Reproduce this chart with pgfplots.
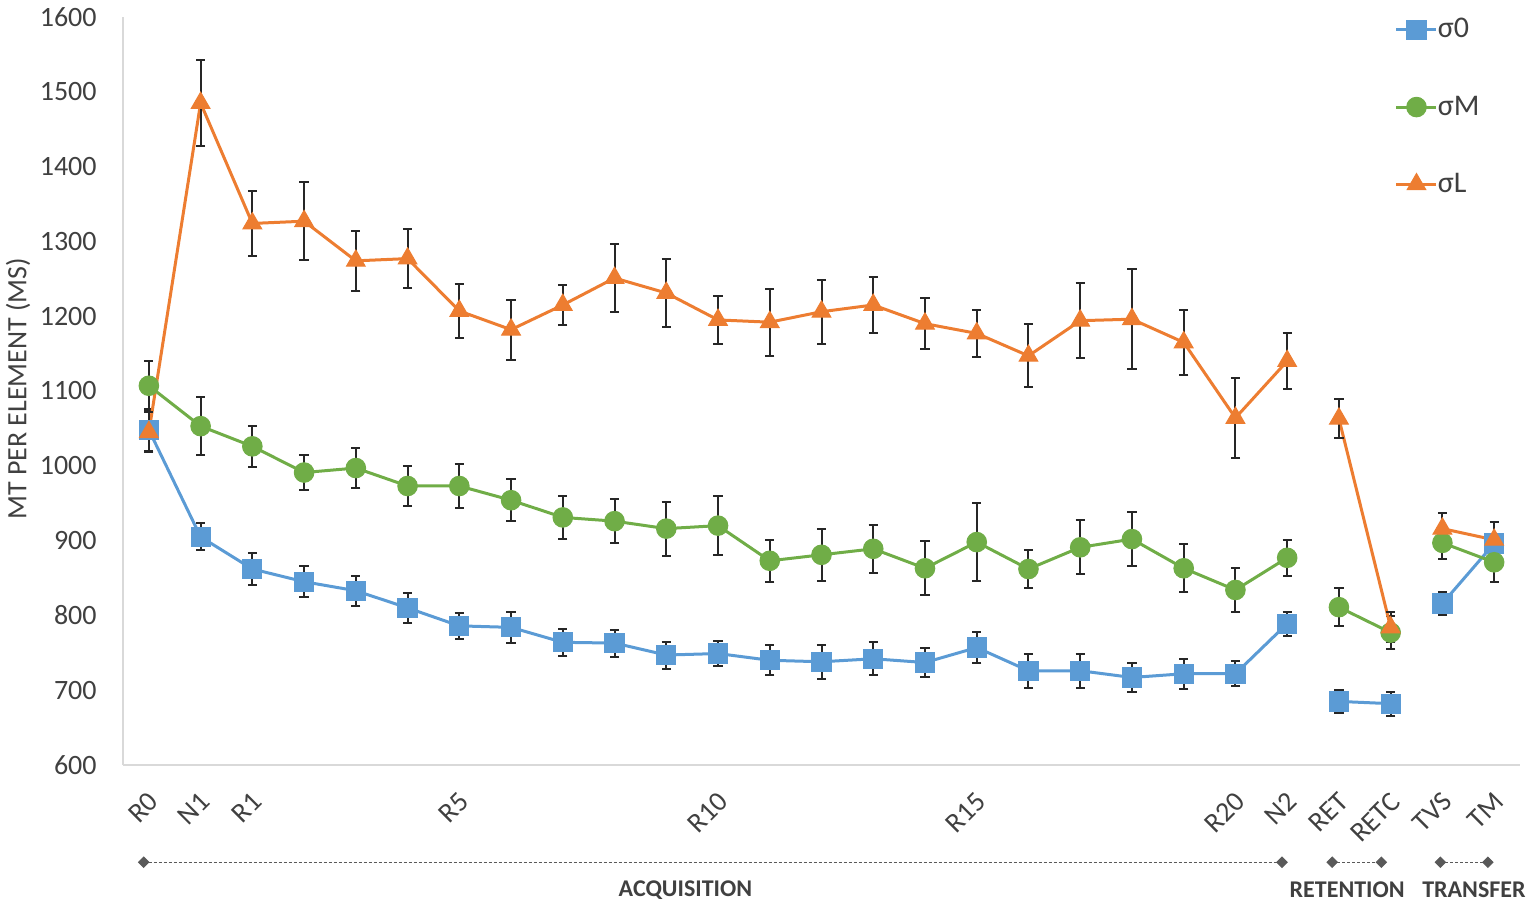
\documentclass[border=0pt]{standalone}
\usepackage{fontspec}
\setmainfont{Carlito}
\usepackage{pgfplots}
\usepackage{pgfplotstable}
\pgfplotsset{compat=1.18}
\definecolor{cblue}{HTML}{5B9BD5}
\definecolor{cgreen}{HTML}{70AD47}
\definecolor{corange}{HTML}{ED7D31}
\definecolor{errc}{HTML}{262626}
\definecolor{txt}{HTML}{404040}
\definecolor{axc}{HTML}{D9D9D9}
\definecolor{anc}{HTML}{595959}

\pgfplotstableread{
x y e
0 1048 28
1 905 18
2 862 21
3 845 21
4 833 20
5 810 20
6 786 17
7 784 21
8 764 18
9 763 18
10 747 18
11 749 17
12 740 20
13 738 23
14 742 22
15 737 20
16 757 21
17 726 23
18 726 23
19 717 19
20 722 20
21 722 17
22 789 16
23 685 15
24 682 16
25 816 15
26 896 12
}\tblue

\pgfplotstableread{
x y e
0 1107 33
1 1053 39
2 1026 27
3 991 24
4 997 27
5 973 27
6 973 29
7 954 28
8 931 29
9 926 29
10 916 36
11 920 39
12 873 28
13 881 35
14 889 32
15 863 36
16 898 52
17 862 25
18 891 36
19 902 36
20 863 32
21 834 29
22 877 24
23 811 25
24 777 22
25 897 22
26 871 26
}\tgreen

\pgfplotstableread{
x y e
0 1045 27
1 1485 57
2 1324 44
3 1327 52
4 1274 40
5 1277 39
6 1207 36
7 1182 40
8 1215 27
9 1251 45
10 1231 45
11 1195 32
12 1192 45
13 1206 43
14 1215 38
15 1190 34
16 1177 31
17 1147 42
18 1194 50
19 1196 67
20 1165 43
21 1064 53
22 1140 38
23 1063 26
24 784 20
25 916 21
26 901 24
}\torange

\pgfplotsset{
  errstyle/.style={/pgfplots/error bars/y dir=both, /pgfplots/error bars/y explicit,
    /pgfplots/error bars/error bar style={line width=1pt, color=errc, solid},
    /pgfplots/error bars/error mark options={rotate=90, mark size=2.3pt, line width=1pt, color=errc}},
  sblue/.style={color=cblue, line width=1.5pt, mark=square*, mark size=4.8pt,
    mark options={solid, fill=cblue, draw=cblue, line width=0.5pt}, errstyle},
  sgreen/.style={color=cgreen, line width=1.5pt, mark=*, mark size=4.9pt,
    mark options={solid, fill=cgreen, draw=cgreen, line width=0.5pt}, errstyle},
  sorange/.style={color=corange, line width=1.5pt, mark=triangle*, mark size=5.4pt,
    mark options={solid, fill=corange, draw=corange, line width=0.5pt}, errstyle},
  annot/.style={color=anc, line width=0.5pt, dash pattern=on 1.5pt off 1pt,
    mark=square*, mark size=1.8pt, mark options={solid, rotate=45, fill=anc, draw=anc}, forget plot},
}

\begin{document}
\begin{tikzpicture}
\path[use as bounding box] (0,0) rectangle (767.5pt,455pt);
\begin{axis}[
  at={(61.5pt,72.5pt)}, anchor=south west,
  scale only axis, width=698.5pt, height=374pt,
  xmin=-0.5, xmax=26.5, ymin=600, ymax=1600,
  clip=false,
  axis x line=bottom, axis y line=left,
  axis line style={-, color=axc, line width=1pt},
  major tick length=0pt,
  ytick={600,700,...,1600},
  xtick={0,1,2,6,11,16,21,22,23,24,25,26},
  xticklabels={R0,N1,R1,R5,R10,R15,R20,N2,RET,RETC,TVS,TM},
  /pgf/number format/assume math mode=true,
  /pgf/number format/1000 sep={},
  tick label style={font=\fontsize{14}{16}\selectfont, text=txt},
  yticklabel style={anchor=east, inner sep=0pt, xshift=-13pt},
  xticklabel style={xshift=2.5pt, yshift=-16pt, rotate=45, anchor=east, inner sep=0pt},
  ylabel={MT PER ELEMENT (MS)},
  every axis y label/.style={at={(axis description cs:-0.0752,0.503)}, rotate=90, anchor=center,
     font=\fontsize{14}{16}\selectfont, text=txt},
  legend style={at={(axis description cs:0.9105,0.998)}, anchor=north west, draw=none, fill=none,
     inner sep=0pt, outer sep=0pt, row sep=27.5pt, font=\fontsize{15}{17}\selectfont, text=txt,
     nodes={inner sep=0pt, anchor=west}},
  legend cell align=left,
  /tikz/every even column/.append style={column sep=2.5pt},
  legend image code/.code={\draw[mark repeat=2, mark phase=2, #1] plot coordinates {(0pt,0pt) (10pt,0pt) (20pt,0pt)};},
]
\addplot[sblue, restrict x to domain=0:22] table[x=x, y=y, y error=e] {\tblue};
\addlegendentry{σ0}
\addplot[sblue, forget plot, restrict x to domain=23:24] table[x=x, y=y, y error=e] {\tblue};
\addplot[sblue, forget plot, restrict x to domain=25:26] table[x=x, y=y, y error=e] {\tblue};

\addplot[sgreen, restrict x to domain=0:22] table[x=x, y=y, y error=e] {\tgreen};
\addlegendentry{σM}
\addplot[sgreen, forget plot, restrict x to domain=23:24] table[x=x, y=y, y error=e] {\tgreen};
\addplot[sgreen, forget plot, restrict x to domain=25:26] table[x=x, y=y, y error=e] {\tgreen};

\addplot[sorange, restrict x to domain=0:22] table[x=x, y=y, y error=e] {\torange};
\addlegendentry{σL}
\addplot[sorange, forget plot, restrict x to domain=23:24] table[x=x, y=y, y error=e] {\torange};
\addplot[sorange, forget plot, restrict x to domain=25:26] table[x=x, y=y, y error=e] {\torange};

\addplot[annot] coordinates {(-0.1,470) (21.9,470)};
\addplot[annot] coordinates {(22.87,470) (23.82,470)};
\addplot[annot] coordinates {(24.96,470) (25.88,470)};

\node[font=\bfseries\fontsize{12}{14}\selectfont, text=txt] at (axis cs:10.37,432.9) {ACQUISITION};
\node[font=\bfseries\fontsize{12}{14}\selectfont, text=txt] at (axis cs:23.16,432.9) {RETENTION};
\node[font=\bfseries\fontsize{12}{14}\selectfont, text=txt] at (axis cs:25.61,432.9) {TRANSFER};
\end{axis}
\end{tikzpicture}
\end{document}
